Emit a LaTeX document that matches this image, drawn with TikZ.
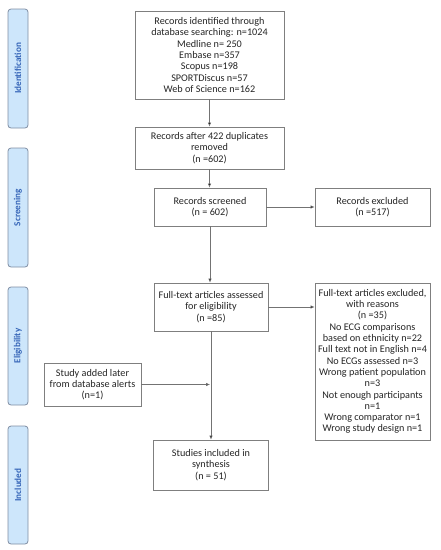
\documentclass[tikz,border=0pt]{standalone}
\usepackage{fontspec}
\setmainfont{Carlito}
\usetikzlibrary{arrows.meta}
\definecolor{boxline}{HTML}{7F7F7F}
\definecolor{lblfill}{HTML}{CDE6FB}
\definecolor{lblline}{HTML}{7F8EA3}
\definecolor{lbltext}{HTML}{3565B8}
\tikzset{
  flowbox/.style={draw=boxline, line width=0.8pt, fill=white, align=center, inner sep=1pt,
    font=\fontsize{10.2}{11.3}\selectfont, text=black!85},
  phase/.style={draw=lblline, line width=0.8pt, fill=lblfill, rounded corners=3pt,
    minimum width=20pt, inner sep=0pt},
  phasetext/.style={rotate=90, font=\fontsize{9.2}{10}\selectfont\bfseries, text=lbltext},
  flow/.style={draw=black!55, line width=0.6pt, -{Latex[length=4pt,width=3.5pt,fill=black]}}
}
\begin{document}
\begin{tikzpicture}[x=1pt,y=-1pt]
\useasboundingbox (0,0) rectangle (440,550);
% phase labels
\node[phase, minimum height=119pt] (lid) at (18,68.5) {};
\node[phasetext] (tid) at (lid.center) {Identification};
\node[phase, minimum height=119pt] (lsc) at (18,207.5) {};
\node[phasetext] (tsc) at (lsc.center) {Screening};
\node[phase, minimum height=118pt] (lel) at (18,346) {};
\node[phasetext] (tel) at (lel.center) {Eligibility};
\node[phase, minimum height=118pt] (lin) at (18,485) {};
\node[phasetext] (tin) at (lin.center) {Included};
% boxes
\node[flowbox, minimum width=149pt, minimum height=88pt] (b1) at (209.5,55)
  {Records identified through\\database searching: n=1024\\Medline n= 250\\Embase n=357\\Scopus n=198\\SPORTDiscus n=57\\Web of Science n=162};
\node[flowbox, minimum width=149pt, minimum height=42pt] (b2) at (209.5,148)
  {Records after 422 duplicates\\removed\\(n =602)};
\node[flowbox, minimum width=112pt, minimum height=38pt] (b3) at (210,207)
  {Records screened\\(n = 602)};
\node[flowbox, minimum width=115pt, minimum height=38pt] (e1) at (372.5,207)
  {Records excluded\\(n =517)};
\node[flowbox, minimum width=114pt, minimum height=48pt] (b4) at (211,307)
  {Full-text articles assessed\\for eligibility\\(n =85)};
\node[flowbox, minimum width=115pt, minimum height=157pt] (e2) at (372.5,361.5)
  {Full-text articles excluded,\\with reasons\\(n =35)\\No ECG comparisons\\based on ethnicity n=22\\Full text not in English n=4\\No ECGs assessed n=3\\Wrong patient population\\n=3\\Not enough participants\\n=1\\Wrong comparator n=1\\Wrong study design n=1};
\node[flowbox, minimum width=97pt, minimum height=43pt] (ad) at (92.5,384.5)
  {Study added later\\from database alerts\\(n=1)};
\node[flowbox, minimum width=115pt, minimum height=50pt] (b5) at (211,465)
  {Studies included in\\synthesis\\(n = 51)};
% connectors
\coordinate (j) at (b4.south |- ad.east);
\draw[flow] (b1) -- (b2);
\draw[flow] (b2.south) -- (b3.north -| b2.south);
\draw[flow] (b3) -- (e1);
\draw[flow] (b3.south) -- (b4.north -| b3.south);
\draw[flow] (b4) -- (e2.west |- b4.east);
\draw[flow] (b4.south) -- (b5.north -| b4.south);
\draw[flow] (ad.east) -- ([xshift=-1pt]j);
\end{tikzpicture}
\end{document}
